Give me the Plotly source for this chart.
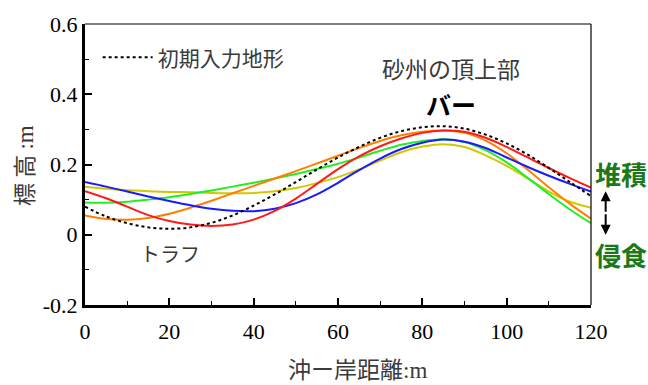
import plotly.graph_objects as go

# Cross-shore distance (m)
x_pos = [0, 5, 10, 15, 20, 25, 30, 35, 40, 45, 50, 55, 60,
         65, 70, 75, 80, 85, 90, 95, 100, 105, 110, 115, 120]

# Initial profile (dashed) and computed profiles (m)
initial = [0.080, 0.052, 0.033, 0.021, 0.017, 0.021, 0.034, 0.055, 0.083, 0.115,
           0.150, 0.186, 0.220, 0.250, 0.276, 0.295, 0.306, 0.309, 0.302, 0.285,
           0.260, 0.228, 0.190, 0.150, 0.110]
red = [0.124, 0.104, 0.080, 0.056, 0.039, 0.029, 0.025, 0.029, 0.043, 0.068,
       0.103, 0.145, 0.187, 0.223, 0.252, 0.274, 0.290, 0.297, 0.293, 0.276,
       0.250, 0.220, 0.190, 0.161, 0.134]
blue = [0.150, 0.137, 0.123, 0.109, 0.096, 0.084, 0.074, 0.068, 0.067, 0.074,
        0.090, 0.115, 0.148, 0.184, 0.217, 0.244, 0.262, 0.271, 0.265, 0.247,
        0.220, 0.193, 0.168, 0.145, 0.123]
green = [0.092, 0.091, 0.094, 0.100, 0.107, 0.116, 0.126, 0.137, 0.148, 0.160,
         0.173, 0.187, 0.202, 0.220, 0.239, 0.256, 0.267, 0.272, 0.264, 0.241,
         0.206, 0.162, 0.116, 0.072, 0.033]
orange = [0.055, 0.045, 0.043, 0.048, 0.060, 0.077, 0.097, 0.118, 0.139, 0.160,
          0.181, 0.203, 0.225, 0.247, 0.267, 0.283, 0.293, 0.297, 0.290, 0.268,
          0.232, 0.185, 0.135, 0.088, 0.046]
yellow = [0.137, 0.131, 0.127, 0.124, 0.122, 0.121, 0.119, 0.118, 0.119, 0.124,
          0.133, 0.147, 0.164, 0.186, 0.211, 0.235, 0.251, 0.258, 0.250, 0.226,
          0.196, 0.160, 0.123, 0.094, 0.077]

x_ticks = [0, 20, 40, 60, 80, 100, 120]
y_ticks = [-0.2, 0, 0.2, 0.4, 0.6]
y_tick_text = ["-0.2", "0", "0.2", "0.4", "0.6"]

JP = "Noto Sans CJK JP"
SERIF = "Liberation Serif"
GREEN_TXT = "#1a7a1a"
LABEL_GRAY = "#3a3a3a"

fig = go.Figure()

profiles = [
    (yellow, "#d2c800"),
    (green, "#22ee22"),
    (orange, "#ff8000"),
    (blue, "#1a1aff"),
    (red, "#ff1a1a"),
]
for ys, col in profiles:
    fig.add_trace(go.Scatter(x=x_pos, y=ys, mode="lines",
                             line=dict(color=col, width=2, shape="spline", smoothing=1.0),
                             showlegend=False, hoverinfo="skip"))

fig.add_trace(go.Scatter(x=x_pos, y=initial, mode="lines", name="初期入力地形",
                         line=dict(color="black", width=2, dash="3px,3px",
                                   shape="spline", smoothing=1.0),
                         showlegend=True, hoverinfo="skip"))

axis_common = dict(
    showgrid=False, zeroline=False,
    showline=True, linecolor="black", linewidth=3,
    ticks="inside", ticklen=7, tickwidth=1.5, tickcolor="black",
    tickfont=dict(family=SERIF, size=22, color="black"),
)

fig.update_xaxes(range=[0, 120], tickvals=x_ticks, ticklabelstandoff=5,
                 minor=dict(ticks="inside", ticklen=4, tickwidth=1.2,
                            tickcolor="black", dtick=10, tick0=0),
                 **axis_common)
fig.update_yaxes(range=[-0.2, 0.6], tickvals=y_ticks, ticktext=y_tick_text,
                 minor=dict(ticks="inside", ticklen=4, tickwidth=1.2,
                            tickcolor="black", dtick=0.1, tick0=0),
                 **axis_common)

# thin frame on top and right
fig.add_shape(type="line", xref="paper", yref="paper", x0=0, x1=1, y0=1, y1=1,
              line=dict(color="black", width=1.2))
fig.add_shape(type="line", xref="paper", yref="paper", x0=1, x1=1, y0=0, y1=1,
              line=dict(color="black", width=1.2))


def label(x, y, text, size, color, xanchor="center", angle=0):
    fig.add_annotation(x=x, y=y, xref="paper", yref="paper", showarrow=False,
                       xanchor=xanchor, yanchor="middle", textangle=angle,
                       text=text, font=dict(family=JP, size=size, color=color))


label(0.723, 0.842, "砂州の頂上部", 23, LABEL_GRAY)
label(0.723, 0.7145, "<b>バー</b>", 25, "black")
label(0.168, 0.183, "トラフ", 20, LABEL_GRAY)

# accretion / erosion labels right of the plot
label(1.003, 0.467, "<b>堆積</b>", 26, GREEN_TXT, xanchor="left")
label(1.003, 0.18, "<b>侵食</b>", 26, GREEN_TXT, xanchor="left")
for head_y, tail_dy in [(0.405, 22), (0.250, -22)]:
    fig.add_annotation(x=1.029, y=head_y, ax=0, ay=tail_dy, xref="paper", yref="paper",
                       axref="pixel", ayref="pixel", showarrow=True, text="",
                       arrowhead=2, arrowsize=1, arrowwidth=2, arrowcolor="black")

# axis titles
label(0.5385, -0.225,
      "沖ー岸距離<span style='font-family:Liberation Serif'>:m</span>", 23, LABEL_GRAY)
label(-0.1225, 0.495,
      "標 高 <span style='font-family:Liberation Serif'>:m</span>", 23, LABEL_GRAY,
      angle=-90)

fig.update_layout(
    width=648, height=385,
    margin=dict(l=85, r=57, t=16, b=80),
    paper_bgcolor="white", plot_bgcolor="white",
    showlegend=True,
    legend=dict(x=0.025, y=0.88, xanchor="left", yanchor="middle",
                bgcolor="rgba(0,0,0,0)", borderwidth=0,
                font=dict(family=JP, size=21, color=LABEL_GRAY),
                itemwidth=50),
)

fig.write_html("out.html")
